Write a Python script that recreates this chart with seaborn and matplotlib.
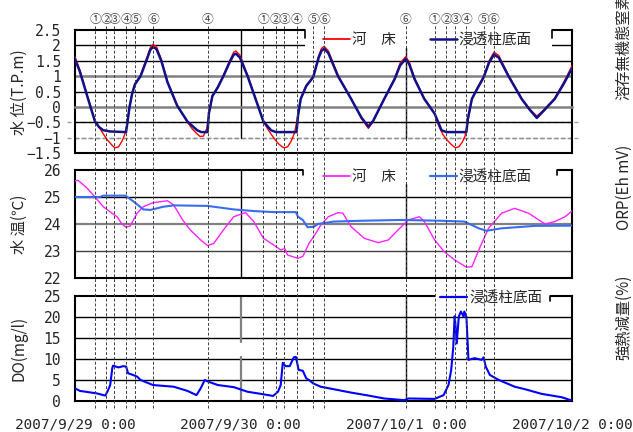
import numpy as np
import pandas as pd
import matplotlib
matplotlib.use('Agg')
import matplotlib.pyplot as plt
import matplotlib.dates as mdates
import matplotlib.transforms as mtransforms
from matplotlib.lines import Line2D
from matplotlib.patches import Rectangle
from matplotlib.ticker import MultipleLocator, FuncFormatter
import seaborn as sns

START = pd.Timestamp('2007-09-29 00:00')

# (hours after 9/29 0:00, value)
# water level T.P.m
level_bed = [(0.0, 1.62), (0.7, 1.2), (1.8, 0.35), (2.9, -0.45), (3.6, -0.7), (4.1, -0.88),
             (4.6, -1.05), (5.1, -1.18), (5.5, -1.28), (5.8, -1.33), (6.3, -1.3), (6.8, -1.12),
             (7.2, -0.9), (7.5, -0.6), (7.9, 0.0), (8.3, 0.47), (8.7, 0.76), (9.5, 1.03),
             (10.5, 1.66), (10.9, 1.92), (11.3, 2.03), (11.8, 1.96), (12.5, 1.55), (13.4, 0.82),
             (14.8, 0.05), (16.3, -0.5), (17.0, -0.72), (17.7, -0.88), (18.1, -0.96), (18.6, -0.95),
             (19.1, -0.7), (19.4, -0.25), (19.9, 0.36), (20.7, 0.66), (21.5, 1.03), (22.4, 1.5),
             (23.0, 1.78), (23.3, 1.82), (23.9, 1.68), (25.0, 1.03), (26.5, 0.05), (27.3, -0.48),
             (28.0, -0.75), (28.7, -0.98), (29.4, -1.18), (30.0, -1.3), (30.3, -1.33), (30.8, -1.3),
             (31.3, -1.12), (31.8, -0.85), (32.2, -0.4), (32.7, 0.27), (33.5, 0.7), (34.5, 0.99),
             (35.3, 1.66), (35.7, 1.9), (36.1, 1.97), (36.7, 1.82), (38.1, 1.03), (40.0, 0.27),
             (41.5, -0.38), (42.5, -0.7), (43.2, -0.48), (44.8, 0.27), (46.3, 0.93), (47.1, 1.42),
             (47.9, 1.63), (48.4, 1.47), (49.2, 0.93), (50.6, 0.27), (52.1, -0.22), (52.7, -0.62),
             (53.3, -0.9), (53.9, -1.08), (54.5, -1.22), (55.1, -1.33), (55.6, -1.3), (56.1, -1.15),
             (56.5, -0.95), (56.9, -0.5), (57.5, 0.27), (58.3, 0.63), (59.2, 0.99), (60.0, 1.5),
             (60.7, 1.78), (61.4, 1.67), (62.8, 1.03), (64.7, 0.28), (65.9, -0.08), (66.9, -0.3),
             (67.8, -0.12), (69.5, 0.28), (70.8, 0.8), (72.0, 1.33)]
level_col = [(0.0, 1.55), (0.7, 1.15), (1.8, 0.33), (2.9, -0.48), (3.5, -0.66), (4.1, -0.76),
             (5.1, -0.80), (7.4, -0.82), (7.6, -0.5), (7.9, 0.0), (8.3, 0.45), (8.7, 0.74),
             (9.5, 1.0), (10.5, 1.6), (10.9, 1.85), (11.3, 1.95), (11.8, 1.88), (12.5, 1.5),
             (13.4, 0.8), (14.8, 0.04), (16.3, -0.48), (17.7, -0.76), (18.3, -0.82), (19.2, -0.82),
             (19.4, -0.2), (19.9, 0.35), (20.7, 0.64), (21.5, 1.0), (22.4, 1.45), (23.0, 1.7),
             (23.3, 1.73), (23.9, 1.6), (25.0, 1.0), (26.5, 0.04), (27.3, -0.48), (28.4, -0.76),
             (29.1, -0.82), (32.1, -0.82), (32.3, -0.3), (32.7, 0.26), (33.5, 0.68), (34.5, 0.96),
             (35.3, 1.6), (35.7, 1.82), (36.1, 1.89), (36.7, 1.75), (38.1, 1.0), (40.0, 0.26),
             (41.5, -0.35), (42.5, -0.64), (43.2, -0.45), (44.8, 0.26), (46.3, 0.9), (47.1, 1.35),
             (47.9, 1.56), (48.4, 1.4), (49.2, 0.9), (50.6, 0.26), (52.1, -0.22), (53.1, -0.76),
             (53.8, -0.82), (56.7, -0.82), (56.9, -0.4), (57.5, 0.26), (58.3, 0.6), (59.2, 0.96),
             (60.0, 1.45), (60.7, 1.7), (61.4, 1.6), (62.8, 1.0), (64.7, 0.26), (65.9, -0.1),
             (66.9, -0.36), (67.8, -0.15), (69.5, 0.26), (70.8, 0.75), (72.0, 1.25)]

# water temperature (deg C)
temp_bed = [(0.0, 25.6), (0.44, 25.62), (1.75, 25.33), (2.9, 25.0), (4.1, 24.64), (5.5, 24.37),
            (6.1, 24.27), (6.8, 24.0), (7.4, 23.88), (8.0, 23.93), (9.0, 24.4), (9.9, 24.64),
            (11.3, 24.79), (13.4, 24.86), (14.3, 24.7), (15.6, 24.15), (16.7, 23.78), (18.2, 23.41),
            (19.2, 23.2), (20.1, 23.28), (21.5, 23.78), (23.0, 24.27), (24.7, 24.42), (25.9, 24.09),
            (27.3, 23.47), (28.8, 23.22), (29.8, 23.04), (30.4, 23.09), (30.8, 22.85), (32.3, 22.73),
            (33.0, 22.8), (33.9, 23.28), (34.9, 23.66), (35.6, 23.96), (36.7, 24.27), (38.1, 24.42),
            (38.8, 24.4), (40.0, 23.9), (41.9, 23.47), (43.9, 23.31), (45.4, 23.41), (46.8, 23.78),
            (48.3, 24.15), (49.9, 24.27), (50.6, 24.09), (52.1, 23.41), (53.5, 22.97), (55.0, 22.67),
            (56.7, 22.4), (57.5, 22.42), (58.5, 23.04), (59.9, 23.84), (61.8, 24.4), (63.7, 24.58),
            (65.7, 24.4), (68.1, 24.0), (69.5, 24.09), (71.0, 24.27), (72.0, 24.48)]
temp_col = [(0.0, 25.0), (3.6, 25.0), (4.1, 25.05), (7.3, 25.05), (8.5, 24.83), (9.9, 24.54),
            (10.9, 24.52), (12.8, 24.64), (14.3, 24.69), (19.2, 24.67), (23.0, 24.54), (25.9, 24.48),
            (28.8, 24.44), (32.0, 24.44), (32.3, 24.27), (33.0, 24.15), (33.7, 23.88), (34.6, 23.9),
            (35.2, 24.0), (37.5, 24.09), (41.5, 24.12), (47.3, 24.15), (53.1, 24.12), (56.4, 24.09),
            (58.5, 23.84), (59.6, 23.75), (61.8, 23.84), (66.6, 23.93), (72.0, 23.94)]

# dissolved oxygen (mg/l)
do_col = [(0.0, 3.0), (0.73, 2.4), (3.2, 1.8), (4.1, 1.4), (4.4, 1.3), (4.8, 2.6), (5.1, 3.8),
          (5.4, 7.8), (5.5, 8.4), (6.3, 8.0), (7.0, 8.3), (7.4, 8.2), (7.7, 6.6), (8.4, 6.2),
          (9.0, 5.8), (9.5, 5.0), (11.3, 3.8), (14.3, 3.4), (16.3, 2.4), (17.6, 1.4), (18.2, 3.0),
          (18.8, 5.0), (19.3, 4.6), (20.7, 3.8), (23.0, 3.3), (25.0, 2.2), (27.3, 1.6), (28.7, 1.2),
          (29.4, 2.2), (29.8, 3.8), (30.1, 9.1), (30.5, 8.3), (31.1, 8.3), (31.7, 10.4), (32.0, 10.5),
          (32.4, 7.4), (33.0, 7.2), (33.5, 5.4), (33.9, 5.0), (34.5, 4.2), (35.6, 3.4), (37.5, 2.8),
          (40.0, 2.0), (42.5, 1.3), (44.8, 0.6), (47.7, 0.2), (48.3, 0.6), (52.1, 0.5), (53.4, 1.4),
          (54.1, 3.8), (54.5, 7.4), (54.8, 12.9), (55.0, 20.2), (55.1, 18.5), (55.3, 13.7),
          (55.6, 20.1), (55.9, 21.3), (56.3, 20.1), (56.4, 21.3), (56.7, 20.1), (57.0, 9.8),
          (57.9, 10.2), (58.9, 9.8), (59.2, 10.4), (59.5, 8.2), (60.1, 6.2), (61.4, 5.0),
          (63.7, 3.4), (65.2, 2.8), (67.6, 1.7), (70.5, 0.9), (72.0, 0.1)]

# sampling events
event_hours = [2.9, 4.5, 5.7, 7.4, 8.7, 11.3, 19.2, 27.3, 29.1, 30.3, 32.1, 34.5, 36.1,
               47.9, 52.1, 53.8, 55.1, 56.7, 59.2, 60.7]
event_labels = ['①', '②', '③', '④', '⑤', '⑥', '④', '①', '②', '③', '④', '⑤', '⑥',
                '⑥', '①', '②', '③', '④', '⑤', '⑥']

sns.set_style('white')
plt.rcParams['font.family'] = ['Noto Sans CJK JP', 'DejaVu Sans']

W, H = 633, 432
fig = plt.figure(figsize=(W / 100, H / 100), dpi=100)


def t(hours):
    return START + pd.to_timedelta(np.asarray(hours, dtype=float), unit='h')


def add_ax(left, top, right, bottom):
    return fig.add_axes([left / W, 1 - bottom / H, (right - left) / W, (bottom - top) / H])


def draw(ax, pairs, color, lw):
    h, v = zip(*pairs)
    sns.lineplot(x=pd.Series(t(h)), y=np.array(v), ax=ax, color=color, lw=lw,
                 estimator=None, sort=False, zorder=4)


def fmt_num(v, pos):
    return ('%g' % (round(v, 2) + 0.0)).replace('-', '\u2212')


ax1 = add_ax(75, 30, 572, 153)
ax2 = add_ax(75, 170, 572, 278)
ax3 = add_ax(75, 296, 572, 401)

draw(ax1, level_bed, '#ff0000', 1.0)
draw(ax1, level_col, '#10108a', 1.8)
draw(ax2, temp_bed, '#ff22ff', 1.0)
draw(ax2, temp_col, '#3a6cf0', 1.5)
draw(ax3, do_col, '#0000ff', 1.5)

for ax in (ax1, ax2, ax3):
    ax.set_xlim(START, START + pd.Timedelta(hours=72))
    ax.set_xlabel('')
    ax.set_ylabel('')
    ax.xaxis.set_major_locator(mdates.DayLocator())
    ax.xaxis.set_minor_locator(mdates.HourLocator(byhour=range(0, 24, 2)))
    ax.tick_params(axis='x', which='both', direction='in', length=4, width=1, color='k')
    ax.tick_params(axis='y', which='major', direction='in', length=4, width=1, color='k',
                   pad=10, labelsize=10.5, labelfontfamily='DejaVu Sans Mono')
    ax.tick_params(axis='y', which='minor', direction='in', length=3, width=0.8, color='k')
    ax.yaxis.set_major_formatter(FuncFormatter(fmt_num))
    for s in ax.spines.values():
        s.set_color('k')
        s.set_linewidth(1.5)

# water level panel
ax1.set_ylim(-1.5, 2.5)
ax1.set_yticks(np.arange(-1.5, 2.51, 0.5))
ax1.tick_params(axis='x', labelbottom=False)
ax1.spines['bottom'].set_position(('data', 0))
ax1.spines['bottom'].set_color('#808080')
ax1.spines['bottom'].set_linewidth(1.8)
ax1.plot([0, 1], [-1.5, -1.5], transform=ax1.get_yaxis_transform(), color='k', lw=1.5, clip_on=False)
for y, c, lw, ls in [(2.0, 'k', 1, '-'), (1.5, 'k', 1, '-'), (1.0, '#808080', 1.8, '-'),
                     (0.5, 'k', 1, '-'), (-0.5, 'k', 1, '-'), (-1.0, '#909090', 1, (0, (3, 2)))]:
    ax1.axhline(y, color=c, lw=lw, ls=ls, zorder=1)
for y in (-0.5, -1.0):
    ax1.plot([-0.016, 1.012], [y, y], transform=ax1.get_yaxis_transform(), color='#a0a0a0',
             lw=1, ls=(0, (3, 2)), clip_on=False, zorder=0.5)
ax1.axvline(t(24), ymin=0.125, color='k', lw=1, zorder=1)
ax1.axvline(t(48), ymin=0.125, color='k', lw=1, zorder=1)

# water temperature panel
ax2.set_ylim(22, 26)
ax2.set_yticks(np.arange(22, 26.1, 1))
ax2.yaxis.set_minor_locator(MultipleLocator(0.2))
ax2.tick_params(axis='x', labelbottom=False)
for y, c, lw in [(25, 'k', 1), (24, '#808080', 1.6), (23, '#404040', 1)]:
    ax2.axhline(y, color=c, lw=lw, zorder=1)
ax2.axvline(t(24), color='k', lw=1, zorder=1)
ax2.axvline(t(48), color='k', lw=1, zorder=1)

# DO panel
ax3.set_ylim(0, 25)
ax3.set_yticks(np.arange(0, 26, 5))
ax3.yaxis.set_minor_locator(MultipleLocator(1))
for y in (5, 10, 15, 20):
    ax3.axhline(y, color='k', lw=1, zorder=1)
ax3.axvline(t(24), ymax=0.42, color='#808080', lw=1.6, zorder=1)
ax3.axvline(t(24), ymin=0.564, color='#808080', lw=1.6, zorder=1)
ax3.axvline(t(48), color='k', lw=1, zorder=1)
ax3.xaxis.set_major_formatter(FuncFormatter(
    lambda v, p: '%d/%d/%d 0:00' % (mdates.num2date(v).year, mdates.num2date(v).month,
                                    mdates.num2date(v).day)))
ax3.tick_params(axis='x', which='major', pad=12, labelsize=10.4, labelfontfamily='DejaVu Sans Mono')


def legend_box(ax, x0, x1, y0, y1, brackets, bracket_y):
    ax.add_patch(Rectangle((x0, y0), x1 - x0, y1 - y0, transform=ax.transAxes,
                           facecolor='white', edgecolor='none', zorder=3, clip_on=False))
    for bx in brackets:
        ax.plot([bx, bx], [1.0, bracket_y], transform=ax.transAxes, color='k', lw=1.2,
                clip_on=False, zorder=3.5)


def legend(ax, colors, lws, labels, x, y):
    handles = [Line2D([], [], color=c, lw=w) for c, w in zip(colors, lws)]
    leg = ax.legend(handles, labels, loc='center left', bbox_to_anchor=(x, y), ncol=len(handles),
                    frameon=False, borderpad=0, borderaxespad=0, handlelength=1.85,
                    handletextpad=0.15, columnspacing=2.3, fontsize=10.5)
    leg.set_zorder(6)


legend_box(ax1, 0.463, 0.960, 0.854, 1.03, [0.463, 0.960], 0.935)
legend(ax1, ['#ff0000', '#10108a'], [1.3, 1.8], ['河\u3000床', '浸透柱底面'], 0.499, 0.919)
legend_box(ax2, 0.459, 0.970, 0.87, 1.03, [0.459, 0.970], 0.954)
legend(ax2, ['#ff22ff', '#3a6cf0'], [1.3, 1.6], ['河\u3000床', '浸透柱底面'], 0.499, 0.935)
legend_box(ax3, 0.724, 0.956, 0.905, 1.08, [0.956], 0.95)
legend(ax3, ['#0000ff'], [1.6], ['浸透柱底面'], 0.734, 0.981)

# sampling event lines across all panels
blend = mtransforms.blended_transform_factory(ax3.transData, fig.transFigure)
for h, lab in zip(event_hours, event_labels):
    xd = mdates.date2num(t(h))
    fig.add_artist(Line2D([xd, xd], [1 - 408 / H, 1 - 25 / H], transform=blend, color='#404040',
                          lw=0.7, ls=(0, (3, 2)), zorder=10))
    fig.text(xd, 1 - 19 / H, lab, transform=blend, ha='center', va='center', fontsize=8.5,
             color='#404040')

# axis titles
fig.text(19 / W, 1 - 92 / H, '水 位(T.P.m)', rotation=90, ha='center', va='center', fontsize=11)
fig.text(19 / W, 1 - 224 / H, '水 温(℃)', rotation=90, ha='center', va='center', fontsize=11)
fig.text(19 / W, 1 - 348 / H, 'DO(mg/l)', rotation=90, ha='center', va='center', fontsize=11)

# clipped labels of the neighbouring chart
fig.text(624 / W, 1 - 100 / H, '溶存無機態窒素(mg/l)', rotation=90, ha='center', va='bottom', fontsize=11)
fig.text(624 / W, 1 - 230 / H, 'ORP(Eh mV)', rotation=90, ha='center', va='bottom', fontsize=11)
fig.text(624 / W, 1 - 360 / H, '強熱減量(%)', rotation=90, ha='center', va='bottom', fontsize=11)

fig.savefig('out.png', dpi=100)
